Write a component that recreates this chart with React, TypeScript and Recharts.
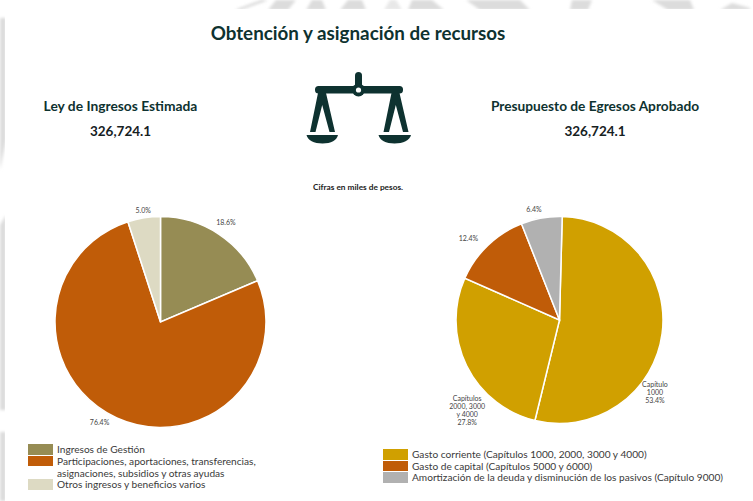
import React from "react";
import { PieChart, Pie, Cell } from "recharts";

const FONT = "Lato, 'Open Sans', sans-serif";
const DARK = "#0e3230";

const ingresoNames = ["Ingresos de Gestión", "Participaciones, aportaciones, transferencias, asignaciones, subsidios y otras ayudas", "Otros ingresos y beneficios varios"];
const ingresoValues = [18.6, 76.4, 5.0];
const ingresoColors = ["#968c54", "#c05c08", "#dddac3"];
const ingresoLabelLines: string[][] = [[], [], []];
const ingresoNudges = [[-1, 1], [-11, -9], [1.5, 7.5]];

const egresoNames = ["Capítulo 1000", "Capítulos 2000, 3000 y 4000", "Gasto de capital", "Amortización"];
const egresoValues = [53.4, 27.8, 12.4, 6.4];
const egresoColors = ["#d0a000", "#d0a000", "#c05c08", "#b1b1b1"];
const egresoLabelLines = [["Capítulo", "1000"], ["Capítulos", "2000, 3000", "y 4000"], [], []];
const egresoNudges = [[-22, 57], [14, 38], [-9, 4], [-5, 6]];

const ingresoLegend = [
  { color: ingresoColors[0], lines: ["Ingresos de Gestión"] },
  { color: ingresoColors[1], lines: ["Participaciones, aportaciones, transferencias,", "asignaciones, subsidios y otras ayudas"] },
  { color: ingresoColors[2], lines: ["Otros ingresos y beneficios varios"] },
];
const egresoLegend = [
  { color: egresoColors[0], lines: ["Gasto corriente (Capítulos 1000, 2000, 3000 y 4000)"] },
  { color: egresoColors[2], lines: ["Gasto de capital (Capítulos 5000 y 6000)"] },
  { color: egresoColors[3], lines: ["Amortización de la deuda y disminución de los pasivos (Capítulo 9000)"] },
];

const makeLabel = (lines: string[][], nudges: number[][]) => (p: any) => {
  const rad = (-p.midAngle * Math.PI) / 180;
  const r = p.outerRadius + 15;
  const x = p.cx + r * Math.cos(rad) + nudges[p.index][0];
  const y = p.cy + r * Math.sin(rad) + nudges[p.index][1];
  const all = [...lines[p.index], `${p.value.toFixed(1)}%`];
  const y0 = y - ((all.length - 1) * 8) / 2 + 2.5;
  return (
    <text key={p.index} x={x} y={y0} textAnchor="middle" fontSize={7} fontFamily={FONT} fill="#444">
      {all.map((t, i) => (
        <tspan key={i} x={x} y={y0 + i * 8}>{t}</tspan>
      ))}
    </text>
  );
};

const T = ({ x, y, w = 300, size, weight = 400, children, color = DARK }: any) => (
  <div style={{ position: "absolute", left: x - w / 2, top: y - size, width: w, height: size * 2, lineHeight: `${size * 2}px`, textAlign: "center", fontSize: size, fontWeight: weight, color, fontFamily: FONT, whiteSpace: "nowrap" }}>{children}</div>
);

const Legend = ({ items, x, y, w }: any) => (
  <div style={{ position: "absolute", left: x, top: y, width: w, fontFamily: FONT, fontSize: 10.15, lineHeight: "12.2px", color: "#3a3a3a" }}>
    {items.map((it: any, i: number) => (
      <div key={i} style={{ display: "flex", alignItems: "flex-start" }}>
        <span style={{ display: "block", width: 25, height: 10.5, marginTop: 0.5, background: it.color, marginRight: 4, flex: "none" }} />
        <span style={{ whiteSpace: "nowrap", marginTop: -0.6 }}>{it.lines.map((l: string, j: number) => <div key={j}>{l}</div>)}</span>
      </div>
    ))}
  </div>
);

const Backdrop = () => (
  <svg width={753} height={501} style={{ position: "absolute", left: 0, top: 0 }}>
    <defs>
      <filter id="soft"><feGaussianBlur stdDeviation="1.5" /></filter>
      <clipPath id="band"><path d="M0 0H753V9H5V501H0Z" /></clipPath>
    </defs>
    <g clipPath="url(#band)">
      <g filter="url(#soft)" fill="#dcdcdc">
        <path d="M0 18H6V140L0 170Z" />
        <path d="M0 225L6 215V410H0Z" />
        <path d="M0 432H6V501H0Z" />
        <path d="M235 10L262 0H268L240 10Z" fill="#cfcfcf" />
        <path d="M268 10L276 0H296L288 10Z" />
        <path d="M306 10L312 0H322L326 10Z" />
        <path d="M340 10L348 0H362L366 10Z" />
        <path d="M384 10L390 0H396L402 10Z" fill="#e8e8e8" />
        <path d="M408 10L412 0H432L444 10Z" />
        <path d="M466 0H520L530 10H480Z" />
        <path d="M570 10L572 0H592L588 10Z" />
        <path d="M652 0H690L694 10H668Z" />
        <path d="M720 10L732 3L750 8V10Z" />
      </g>
    </g>
  </svg>
);

const ScaleIcon = () => (
  <svg width={753} height={501} style={{ position: "absolute", left: 0, top: 0 }}>
    <g fill={DARK}>
      <rect x={355} y={72} width={7} height={20} rx={3.5} />
      <rect x={315} y={86} width={88} height={7.5} rx={3.5} />
      <circle cx={358.5} cy={90} r={6.5} />
      <path d="M318 93h8L335 132h-5.5L322.2 105 315.5 132H310Z" />
      <path d="M391.5 93h8L408.5 132H403L395.8 105 389 132H383.5Z" />
      <path d="M306.5 135H338C337 140 331 143.5 322.5 143.5S307.5 140 306.5 135Z" />
      <path d="M378.5 135H411C410 140 403 143.5 394.5 143.5S379.5 140 378.5 135Z" />
    </g>
    <circle cx={358.5} cy={90} r={2.6} fill="#fff" />
  </svg>
);

const toRows = (names: string[], values: number[]) => names.map((name, i) => ({ name, value: values[i] }));

export default function App() {
  return (
    <div style={{ position: "absolute", left: 0, top: 0, width: 753, height: 501, background: "#fff", overflow: "hidden" }}>
      <Backdrop />
      <T x={358} y={33} size={18.8} weight={700}>Obtención y asignación de recursos</T>
      <T x={120.5} y={106} size={13.8} weight={700}>Ley de Ingresos Estimada</T>
      <T x={120.5} y={131} size={13.5} weight={700} color="#16211f">326,724.1</T>
      <T x={595} y={106} size={13.7} weight={700}>Presupuesto de Egresos Aprobado</T>
      <T x={595} y={131} size={13.5} weight={700} color="#16211f">326,724.1</T>
      <ScaleIcon />
      <T x={358} y={187} size={8.3} weight={700} color="#222">Cifras en miles de pesos.</T>
      <div style={{ position: "absolute", left: 0, top: 0 }}>
        <PieChart width={753} height={501} margin={{ top: 0, right: 0, bottom: 0, left: 0 }}>
          <Pie data={toRows(ingresoNames, ingresoValues)} dataKey="value" cx={160.5} cy={322} outerRadius={105.5} startAngle={90} endAngle={-270} stroke="#fff" strokeWidth={1.5} isAnimationActive={false} labelLine={false} label={makeLabel(ingresoLabelLines, ingresoNudges)}>
            {ingresoColors.map((c, i) => <Cell key={i} fill={c} />)}
          </Pie>
          <Pie data={toRows(egresoNames, egresoValues)} dataKey="value" cx={559.5} cy={320} outerRadius={103.5} startAngle={88.5} endAngle={-271.5} stroke="#fff" strokeWidth={1.5} isAnimationActive={false} labelLine={false} label={makeLabel(egresoLabelLines, egresoNudges)}>
            {egresoColors.map((c, i) => <Cell key={i} fill={c} />)}
          </Pie>
        </PieChart>
      </div>
      <Legend items={ingresoLegend} x={28} y={443.5} w={330} />
      <Legend items={egresoLegend} x={383} y={448.5} w={365} />
    </div>
  );
}
